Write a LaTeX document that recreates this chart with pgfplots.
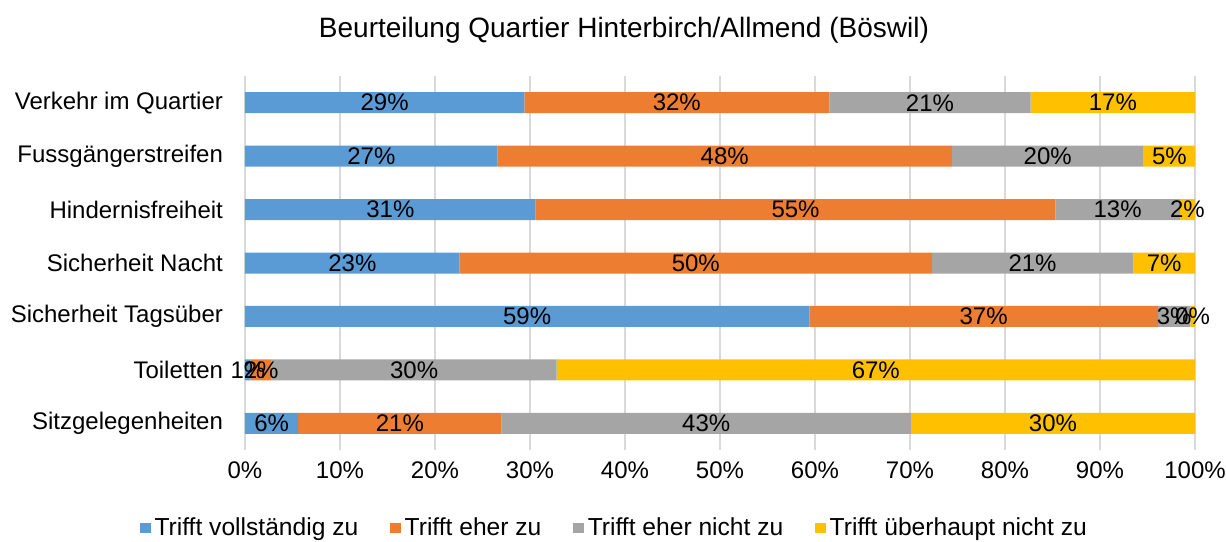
\documentclass[border=0pt]{standalone}
\usepackage{pgfplots}
\pgfplotsset{compat=1.18}
\usepackage{fontspec}
\setmainfont{Liberation Sans}
\definecolor{cBlue}{HTML}{5B9BD5}
\definecolor{cOrange}{HTML}{ED7D31}
\definecolor{cGray}{HTML}{A5A5A5}
\definecolor{cYellow}{HTML}{FFC000}
\definecolor{cGrid}{HTML}{D9D9D9}
\pgfplotsset{
  common/.style={width=475pt,height=187pt,scale only axis,
    xmin=0,xmax=100,ymin=-0.5,ymax=6.5,y dir=reverse},
  mybar/.style={fill=#1,draw=none,
    legend image code/.code={\fill[#1] (0pt,-2.6pt) rectangle (5.2pt,2.6pt);}},
}
\begin{document}
\begin{tikzpicture}
\useasboundingbox (-122.5pt,-45.5pt) rectangle (490.5pt,225pt);
\begin{axis}[common,
  xbar stacked, bar width=10.5pt,
  xtick={0,10,...,100},
  xticklabel={\pgfmathprintnumber{\tick}\%},
  ytick={0,...,6},
  yticklabels={Verkehr im Quartier,Fussgängerstreifen,Hindernisfreiheit,Sicherheit Nacht,Sicherheit Tagsüber,Toiletten,Sitzgelegenheiten},
  xmajorgrids, grid style={draw=cGrid,line width=0.8pt},
  axis line style={draw=none},
  major tick length=0pt,
  tick label style={font=\fontsize{12}{14}\selectfont},
  yticklabel style={xshift=-7.5pt},
  xticklabel style={yshift=-2.5pt},
  /pgf/number format/assume math mode=true,
  legend style={at={(0.39,-0.2086)},anchor=center,draw=none,fill=none,
    legend columns=4,font=\fontsize{12.3}{14}\selectfont,
    /tikz/every even column/.append style={column sep=14pt}},
]
\addplot[mybar=cBlue] coordinates {(29.4,0) (26.6,1) (30.6,2) (22.6,3) (59.4,4) (0.6,5) (5.6,6)};
\addplot[mybar=cOrange] coordinates {(32.1,0) (47.8,1) (54.7,2) (49.7,3) (36.7,4) (2.2,5) (21.4,6)};
\addplot[mybar=cGray] coordinates {(21.2,0) (20.2,1) (13.1,2) (21.2,3) (3.4,4) (30.0,5) (43.1,6)};
\addplot[mybar=cYellow] coordinates {(17.3,0) (5.4,1) (1.6,2) (6.5,3) (0.5,4) (67.2,5) (29.9,6)};
\legend{Trifft vollständig zu,Trifft eher zu,Trifft eher nicht zu,Trifft überhaupt nicht zu}
\end{axis}
\begin{axis}[common, hide axis, clip=false]
\addplot[draw=none, mark=none, nodes near coords, point meta=explicit symbolic,
  every node near coord/.style={anchor=center, inner sep=0pt, font=\fontsize{12}{14}\selectfont, text=black}]
coordinates {
 (14.7,0)[29\%] (45.45,0)[32\%] (72.1,0)[21\%] (91.35,0)[17\%]
 (13.3,1)[27\%] (50.5,1)[48\%] (84.5,1)[20\%] (97.3,1)[5\%]
 (15.3,2)[31\%] (57.95,2)[55\%] (91.85,2)[13\%] (99.2,2)[2\%]
 (11.3,3)[23\%] (47.45,3)[50\%] (82.9,3)[21\%] (96.75,3)[7\%]
 (29.7,4)[59\%] (77.75,4)[37\%] (97.8,4)[3\%] (99.75,4)[0\%]
 (0.3,5)[1\%] (1.7,5)[2\%] (17.8,5)[30\%] (66.4,5)[67\%]
 (2.8,6)[6\%] (16.3,6)[21\%] (48.55,6)[43\%] (85.05,6)[30\%]
};
\end{axis}
\node at (189.5pt,210pt) {\fontsize{14}{17}\selectfont Beurteilung Quartier Hinterbirch/Allmend (Böswil)};
\end{tikzpicture}
\end{document}
